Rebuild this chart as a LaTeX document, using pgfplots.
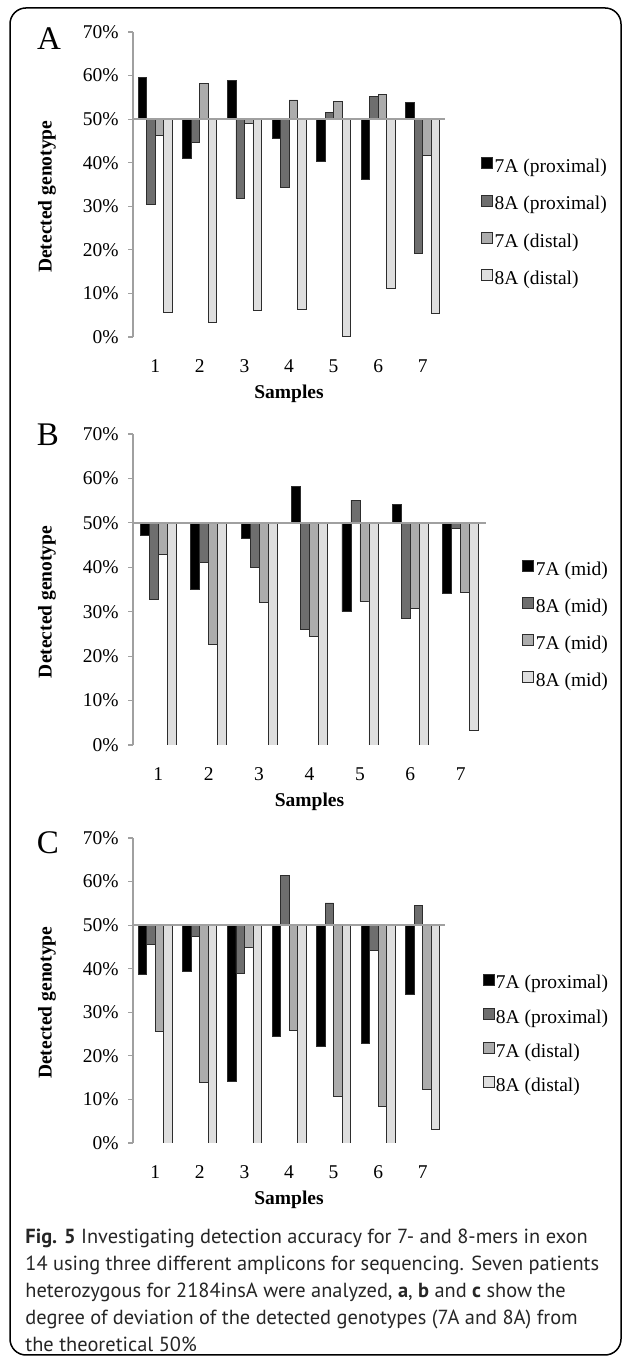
\documentclass[border=0pt]{standalone}
\usepackage{pgfplots}
\pgfplotsset{compat=1.18}
\usepackage{fontspec}
\setmainfont{Liberation Serif}
\newfontfamily\capfont{PT Sans}

\definecolor{bdark}{RGB}{110,110,110}
\definecolor{bmid}{RGB}{172,172,172}
\definecolor{blight}{RGB}{222,222,222}
\definecolor{axgray}{RGB}{160,160,160}
\definecolor{edge}{RGB}{45,45,45}

\pgfplotsset{
  panel/.style={
    scale only axis,
    ybar=0pt,
    bar width=4.25pt,
    xmin=0.5, xmax=7.5,
    ymin=-50, ymax=20,
    y filter/.expression={y-50},
    xtick={1,...,7},
    ytick={-50,-40,...,20},
    yticklabels={0\%,10\%,20\%,30\%,40\%,50\%,60\%,70\%},
    axis lines*=left,
    axis line style={-},
    x axis line style={draw=none},
    y axis line style={axgray, line width=0.6pt},
    xtick style={draw=none},
    ytick style={axgray, line width=0.6pt},
    tick align=outside,
    major tick length=2.5pt,
    tick label style={font=\fontsize{9.75}{11}\selectfont},
    /pgf/number format/assume math mode=true,
    xticklabel style={anchor=center, yshift=-12pt},
    yticklabel style={anchor=east, inner sep=0pt, xshift=-4.5pt},
    every axis x label/.style={at={(axis description cs:0.5,0)}, yshift=-28.5pt,
      anchor=center, font=\bfseries\fontsize{9.75}{11}\selectfont},
    every axis y label/.style={at={(axis description cs:0,0.46)}, xshift=-43pt,
      rotate=90, anchor=center, font=\bfseries\fontsize{9.75}{11}\selectfont},
    xlabel={Samples},
    ylabel={Detected genotype},
    legend cell align=left,
    legend image code/.code={\draw[#1, line width=0.4pt] (0pt,-0.6pt) rectangle (5.5pt,4.9pt);},
    legend style={draw=none, fill=none, inner sep=0pt, anchor=north west,
      font=\fontsize{9.75}{11}\selectfont, row sep=8.5pt,
      nodes={inner sep=0.8pt}},
  },
  s1/.style={fill=black, draw=edge, line width=0.4pt},
  s2/.style={fill=bdark, draw=edge, line width=0.4pt},
  s3/.style={fill=bmid, draw=edge, line width=0.4pt},
  s4/.style={fill=blight, draw=edge, line width=0.4pt},
}

\begin{document}
\begin{tikzpicture}
\useasboundingbox (0pt,0pt) rectangle (312.5pt,679pt);
\draw[line width=0.75pt, rounded corners=8pt] (5pt,1.5pt) rectangle (310.5pt,675pt);

\node[font=\fontsize{16.5}{18}\selectfont] at (24.5pt,659.5pt) {A};
\node[font=\fontsize{16.5}{18}\selectfont] at (24pt,461.5pt) {B};
\node[font=\fontsize{16.5}{18}\selectfont] at (24pt,257.5pt) {C};

% panel A
\begin{axis}[panel, at={(66.5pt,510.5pt)}, anchor=south west,
    width=156pt, height=152.5pt,
    legend style={at={(1.115,0.59)}}]
  \addplot[s1] coordinates {(1,59.6) (2,41.1) (3,58.8) (4,45.6) (5,40.4) (6,36.2) (7,53.9)};
  \addlegendentry{7A (proximal)}
  \addplot[s2] coordinates {(1,30.5) (2,44.7) (3,31.8) (4,34.3) (5,51.5) (6,55.3) (7,19.2)};
  \addlegendentry{8A (proximal)}
  \addplot[s3] coordinates {(1,46.3) (2,58.2) (3,49.0) (4,54.4) (5,54.1) (6,55.7) (7,41.6)};
  \addlegendentry{7A (distal)}
  \addplot[s4] coordinates {(1,5.6) (2,3.3) (3,6.2) (4,6.3) (5,0.1) (6,11.1) (7,5.5)};
  \addlegendentry{8A (distal)}
  \draw[axgray, line width=0.8pt] (axis cs:0.5,0) -- (axis cs:7.5,0);
\end{axis}

% panel B
\begin{axis}[panel, at={(66.5pt,306.5pt)}, anchor=south west,
    width=176.5pt, height=155.5pt, bar width=4.5pt,
    legend style={at={(1.102,0.597)}}]
  \addplot[s1] coordinates {(1,47.2) (2,35.1) (3,46.5) (4,58.1) (5,30.0) (6,54.2) (7,34.2)};
  \addlegendentry{7A (mid)}
  \addplot[s2] coordinates {(1,32.7) (2,41.1) (3,40.0) (4,26.0) (5,55.1) (6,28.6) (7,48.7)};
  \addlegendentry{8A (mid)}
  \addplot[s3] coordinates {(1,43.0) (2,22.7) (3,32.1) (4,24.5) (5,32.4) (6,30.7) (7,34.4)};
  \addlegendentry{7A (mid)}
  \addplot[s4] coordinates {(1,0) (2,0) (3,0) (4,0) (5,0) (6,0) (7,3.3)};
  \addlegendentry{8A (mid)}
  \draw[axgray, line width=0.8pt] (axis cs:0.5,0) -- (axis cs:7.5,0);
\end{axis}

% panel C
\begin{axis}[panel, at={(66.5pt,107.5pt)}, anchor=south west,
    width=156pt, height=152.5pt,
    legend style={at={(1.119,0.557)}, row sep=7pt}]
  \addplot[s1] coordinates {(1,38.6) (2,39.4) (3,14.1) (4,24.5) (5,22.2) (6,22.9) (7,34.0)};
  \addlegendentry{7A (proximal)}
  \addplot[s2] coordinates {(1,45.6) (2,47.5) (3,39.0) (4,61.5) (5,55.1) (6,44.1) (7,54.6)};
  \addlegendentry{8A (proximal)}
  \addplot[s3] coordinates {(1,25.5) (2,13.8) (3,44.8) (4,25.9) (5,10.6) (6,8.3) (7,12.3)};
  \addlegendentry{7A (distal)}
  \addplot[s4] coordinates {(1,0) (2,0) (3,0) (4,0) (5,0) (6,0) (7,3.2)};
  \addlegendentry{8A (distal)}
  \draw[axgray, line width=0.8pt] (axis cs:0.5,0) -- (axis cs:7.5,0);
\end{axis}

\node[anchor=north west, inner sep=0pt, align=left, text=black!85,
      font=\capfont\fontsize{10.2}{13.5}\selectfont] at (12.5pt,64.5pt)
  {\textbf{Fig. 5} Investigating detection accuracy for 7- and 8-mers in exon\\
   14 using three different amplicons for sequencing. Seven patients\\
   heterozygous for 2184insA were analyzed, \textbf{a}, \textbf{b} and \textbf{c} show the\\
   degree of deviation of the detected genotypes (7A and 8A) from\\
   the theoretical 50\%};
\end{tikzpicture}
\end{document}
